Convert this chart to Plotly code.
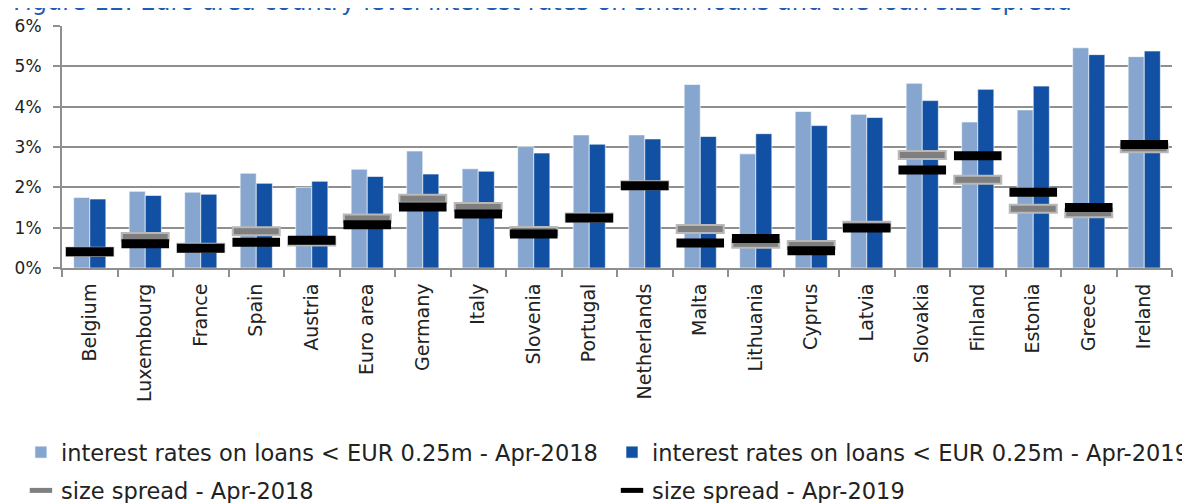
import plotly.graph_objects as go

countries = ["Belgium", "Luxembourg", "France", "Spain", "Austria", "Euro area", "Germany",
             "Italy", "Slovenia", "Portugal", "Netherlands", "Malta", "Lithuania", "Cyprus",
             "Latvia", "Slovakia", "Finland", "Estonia", "Greece", "Ireland"]
rates_2018 = [1.75, 1.90, 1.88, 2.35, 2.00, 2.45, 2.90, 2.46, 3.01, 3.30, 3.30, 4.55, 2.83, 3.88,
              3.81, 4.58, 3.62, 3.92, 5.46, 5.24]
rates_2019 = [1.71, 1.80, 1.83, 2.10, 2.15, 2.27, 2.33, 2.40, 2.85, 3.07, 3.20, 3.26, 3.33, 3.53,
              3.73, 4.15, 4.43, 4.51, 5.29, 5.38]
spread_2018 = [0.40, 0.77, 0.50, 0.91, 0.66, 1.23, 1.72, 1.51, 0.92, 1.25, 2.05, 0.97, 0.60, 0.57,
               1.05, 2.80, 2.19, 1.47, 1.36, 2.97]
spread_2019 = [0.40, 0.60, 0.49, 0.64, 0.69, 1.07, 1.51, 1.34, 0.84, 1.24, 2.04, 0.62, 0.73, 0.43,
               0.99, 2.43, 2.78, 1.88, 1.50, 3.06]
y_ticks = [0, 1, 2, 3, 4, 5, 6]
y_tick_labels = ["0%", "1%", "2%", "3%", "4%", "5%", "6%"]

title_text = "Figure 12: Euro area country-level interest rates on small loans and the loan size spread"
names = ["interest rates on loans < EUR 0.25m - Apr-2018",
         "interest rates on loans < EUR 0.25m - Apr-2019",
         "size spread - Apr-2018",
         "size spread - Apr-2019"]

FONT = "DejaVu Sans"
LIGHT = "#87A6CF"
DARK = "#1250A3"
GRID = "#8f8f8f"

fig = go.Figure()
fig.add_trace(go.Bar(x=countries, y=rates_2018, name=names[0], marker_color=LIGHT,
                     marker_line=dict(color="rgba(255,255,255,0.6)", width=1),
                     legend="legend", legendgroup="a"))
fig.add_trace(go.Bar(x=countries, y=rates_2019, name=names[1], marker_color=DARK,
                     marker_line=dict(color="rgba(255,255,255,0.6)", width=1),
                     legend="legend2", legendgroup="b"))
# gray marker outline
fig.add_trace(go.Scatter(x=countries, y=spread_2018, mode="markers", showlegend=False,
                         marker=dict(symbol="line-ew", size=35, line=dict(color="#b8b8b8", width=10)),
                         hoverinfo="skip"))
fig.add_trace(go.Scatter(x=countries, y=spread_2018, mode="markers", name=names[2],
                         marker=dict(symbol="line-ew", size=32, color="#7f7f7f",
                                     line=dict(color="#7f7f7f", width=6)),
                         legend="legend", legendgroup="c"))
fig.add_trace(go.Scatter(x=countries, y=spread_2019, mode="markers", name=names[3],
                         marker=dict(symbol="line-ew", size=34, color="#000000",
                                     line=dict(color="#000000", width=9)),
                         legend="legend2", legendgroup="d"))

fig.add_annotation(text=title_text, xref="paper", yref="paper", x=-0.046, y=1.033,
                   xanchor="left", yanchor="bottom", showarrow=False,
                   font=dict(family=FONT, size=24, color="#1f5cb8"))

legend_common = dict(orientation="v", xanchor="left", yanchor="top", y=-0.6736,
                     font=dict(family=FONT, size=22.5, color="#222222"),
                     bgcolor="rgba(0,0,0,0)", tracegroupgap=6, traceorder="grouped")

fig.update_layout(
    width=1190, height=503,
    margin=dict(l=54, r=26, t=18, b=243, autoexpand=False),
    plot_bgcolor="white", paper_bgcolor="white",
    barmode="group", bargap=0.42, bargroupgap=0.0,
    showlegend=True,
    legend=dict(x=-0.037, **legend_common),
    legend2=dict(x=0.4955, **legend_common),
    font=dict(family=FONT, color="#222222"),
)
fig.update_xaxes(type="category", range=[-0.5, len(countries) - 0.5], tickson="boundaries",
                 ticks="outside", ticklen=7, tickcolor=GRID, tickwidth=2, showline=True,
                 linecolor=GRID, linewidth=2, showgrid=False, tickangle=-90,
                 ticklabelstandoff=6,
                 tickfont=dict(family=FONT, size=19, color="#222222"))
fig.update_yaxes(range=[0, 6], tickvals=y_ticks, ticktext=y_tick_labels, ticks="outside",
                 ticklen=7, tickcolor=GRID, tickwidth=2, showline=True, linecolor=GRID,
                 linewidth=2, showgrid=True, gridcolor=GRID, gridwidth=2, zeroline=False,
                 ticklabelstandoff=8,
                 tickfont=dict(family=FONT, size=17, color="#222222"))

fig.write_html("out.html")
